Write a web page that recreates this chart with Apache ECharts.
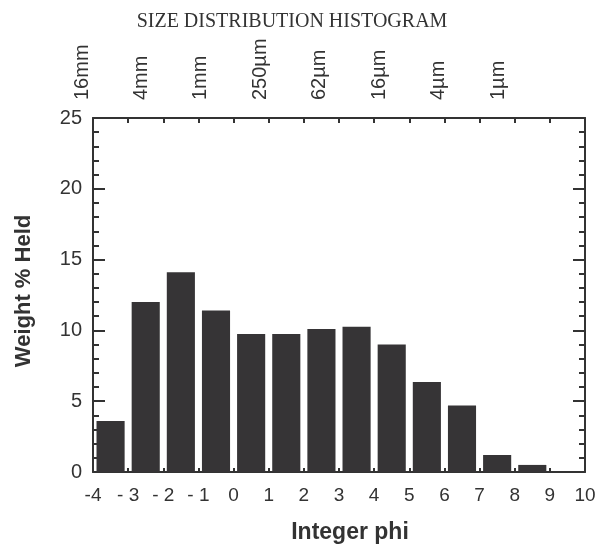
<!DOCTYPE html>
<html>
  <head>
    <meta charset="utf-8">
    <title>Size distribution histogram</title>
    <script src="https://cdn.jsdelivr.net/npm/echarts@6/dist/echarts.min.js"></script>
    <style>
      html, body { margin: 0; padding: 0; background: #fff; }
      #container { width: 607px; height: 550px; }
    </style>
  </head>
  <body>
    <div id="container"></div>
    <script>
        // left edge of each integer phi class and its weight %
        const phiClasses = [-4, -3, -2, -1, 0, 1, 2, 3, 4, 5, 6, 7, 8, 9];
        const weightHeld = [3.6, 12.0, 14.1, 11.4, 9.75, 9.75, 10.1, 10.25, 9.0, 6.35, 4.7, 1.2, 0.5, 0];
        // grain size labels along the top
        const sizeLabels = ['16mm', '4mm', '1mm', '250µm', '62µm', '16µm', '4µm', '1µm'];

        const ink = '#333';
        const sans = 'Liberation Sans, Arial, sans-serif';

        const chart = echarts.init(document.getElementById('container'));

        const option = {
            animation: false,
            title: {
                text: 'SIZE DISTRIBUTION HISTOGRAM',
                left: 287,
                top: 7,
                textAlign: 'center',
                textStyle: {
                    fontFamily: 'Liberation Serif, Times New Roman, serif',
                    fontWeight: 'normal',
                    fontSize: 20,
                    color: ink
                }
            },
            grid: [
                {left: 93, right: 22, top: 118, bottom: 78},
                {left: 82, width: 416, top: 118, bottom: 78}
            ],
            xAxis: [
                {
                    type: 'value', gridIndex: 0, position: 'bottom',
                    min: -4, max: 10, interval: 1,
                    axisLine: {onZero: false, lineStyle: {color: ink, width: 2}},
                    axisTick: {inside: true, length: 4, lineStyle: {color: ink, width: 2}},
                    splitLine: {show: false},
                    axisLabel: {
                        fontSize: 19, color: ink, fontFamily: sans, margin: 14,
                        formatter: v => (v < 0 && v > -4) ? '- ' + (-v) : String(v)
                    },
                    name: 'Integer phi',
                    nameLocation: 'middle',
                    nameGap: 49,
                    nameTextStyle: {fontSize: 23, fontWeight: 'bold', color: ink, fontFamily: sans, padding: [0, 0, 0, 22]}
                },
                {
                    type: 'value', gridIndex: 0, position: 'top',
                    min: -4, max: 10, interval: 1,
                    axisLine: {onZero: false, lineStyle: {color: ink, width: 2}},
                    axisTick: {inside: true, length: 5, lineStyle: {color: ink, width: 2}},
                    splitLine: {show: false},
                    axisLabel: {show: false}
                },
                {
                    type: 'value', gridIndex: 1, position: 'top',
                    min: 0, max: 7, interval: 1,
                    axisLine: {show: false},
                    axisTick: {show: false},
                    splitLine: {show: false},
                    axisLabel: {
                        rotate: 90, margin: 18, fontSize: 20, color: ink, fontFamily: sans,
                        formatter: v => sizeLabels[v]
                    }
                }
            ],
            yAxis: [
                {
                    type: 'value', gridIndex: 0, position: 'left',
                    min: 0, max: 25, interval: 5,
                    axisLine: {show: true, onZero: false, lineStyle: {color: ink, width: 2}},
                    axisTick: {show: true, inside: true, length: 12, lineStyle: {color: ink, width: 2}},
                    minorTick: {show: true, splitNumber: 5, length: 6, lineStyle: {color: ink, width: 2}},
                    splitLine: {show: false},
                    axisLabel: {fontSize: 20, color: ink, fontFamily: sans, margin: 11},
                    name: 'Weight % Held',
                    nameLocation: 'middle',
                    nameGap: 58,
                    nameTextStyle: {fontSize: 22, fontWeight: 'bold', color: ink, fontFamily: sans, padding: [0, 0, 0, 8]}
                },
                {
                    type: 'value', gridIndex: 0, position: 'right',
                    min: 0, max: 25, interval: 5,
                    axisLine: {show: true, onZero: false, lineStyle: {color: ink, width: 2}},
                    axisTick: {show: true, inside: true, length: 12, lineStyle: {color: ink, width: 2}},
                    minorTick: {show: true, splitNumber: 5, length: 6, lineStyle: {color: ink, width: 2}},
                    splitLine: {show: false},
                    axisLabel: {show: false}
                },
                {
                    type: 'value', gridIndex: 1, show: false, min: 0, max: 25
                }
            ],
            series: [
                {
                    type: 'custom',
                    xAxisIndex: 0,
                    yAxisIndex: 0,
                    data: phiClasses.map((p, i) => [p, weightHeld[i]]),
                    renderItem: function (params, api) {
                        const x0 = api.value(0);
                        const topLeft = api.coord([x0 + 0.1, api.value(1)]);
                        const bottomRight = api.coord([x0 + 0.9, 0]);
                        return {
                            type: 'rect',
                            shape: {
                                x: topLeft[0],
                                y: topLeft[1],
                                width: bottomRight[0] - topLeft[0],
                                height: bottomRight[1] - topLeft[1]
                            },
                            style: {fill: '#363436'}
                        };
                    }
                }
            ]
        };

        chart.setOption(option);
    </script>
  </body>
</html>
